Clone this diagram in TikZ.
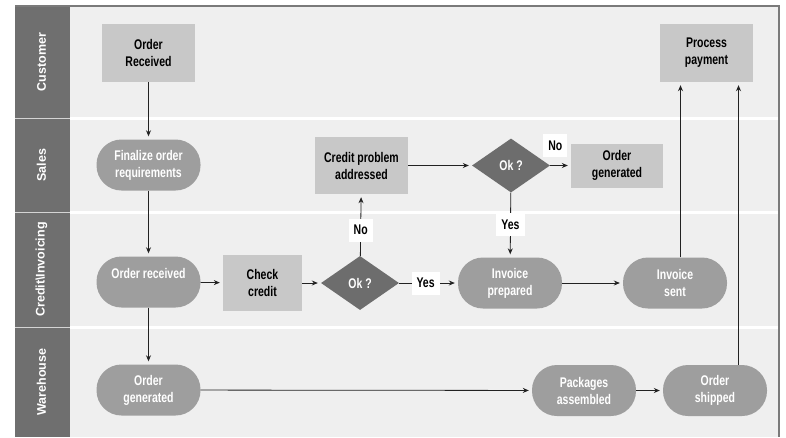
\documentclass[tikz,border=0pt]{standalone}
\usepackage{fontspec}
\setmainfont{Liberation Sans}
\newfontfamily\condfont[FakeStretch=0.75]{Liberation Sans}
\usetikzlibrary{
  shapes.geometric, arrows.meta, positioning, calc
}
\definecolor{laneblock}{HTML}{6F6F6F}
\definecolor{lanepanel}{HTML}{EFEFEF}
\definecolor{stepgray}{HTML}{C8C8C8}
\definecolor{pillgray}{HTML}{9E9E9E}
\definecolor{decidegray}{HTML}{6D6D6D}
\definecolor{framegray}{HTML}{7A7A7A}
\definecolor{flowdark}{HTML}{222222}

\begin{document}
\begin{tikzpicture}[
  x=1pt, y=-1pt,
  stepbox/.style 2 args={
    rectangle, fill=stepgray,
    minimum width=#1, minimum height=#2, inner sep=2pt,
    align=center, text=black,
    font=\condfont\bfseries\fontsize{14}{17}\selectfont
  },
  pill/.style={
    rectangle, rounded corners=25pt, fill=pillgray,
    minimum width=104pt, minimum height=51pt, inner sep=2pt,
    align=center, text=white,
    font=\condfont\bfseries\fontsize{14}{17}\selectfont
  },
  decision/.style={
    diamond, aspect=1.45, fill=decidegray,
    minimum width=78pt, minimum height=54pt, inner sep=0pt,
    text=white, font=\condfont\bfseries\fontsize{14}{17}\selectfont
  },
  tag/.style={
    fill=white, minimum height=23pt, inner xsep=5pt, inner ysep=2pt,
    text=black, font=\condfont\bfseries\fontsize{14}{17}\selectfont
  },
  lanelabel/.style={
    rotate=90, text=white, font=\bfseries\fontsize{12.5}{15}\selectfont
  },
  flow/.style={
    draw=flowdark, line width=0.8pt, shorten >=3pt,
    -{Stealth[length=6pt,width=5pt]}
  }
]
  \useasboundingbox (0,0) rectangle (786,437);

  \fill[lanepanel] (70,6) rectangle (779,437);
  \fill[laneblock] (15,6) rectangle (70,437);
  \foreach \y in {118,212,327} {
    \draw[white, line width=3pt] (70,\y) -- (779,\y);
    \draw[white!70!laneblock, line width=1pt] (15,\y) -- (70,\y);
  }
  \draw[framegray, line width=2.5pt] (15,6) -- (779,6) -- (779,437);

  \node[lanelabel] (lcust) at (41.5,62) {Customer};
  \node[lanelabel] (lsales) at (41.5,165) {Sales};
  \node[lanelabel] (lcredit) at (41.5,269.5) {Credit\textbackslash Invoicing};
  \node[lanelabel] (lware) at (41.5,382) {Warehouse};

  \node[stepbox={93pt}{58pt}] (ordrec) at (148.5,53) {Order\\Received};
  \node[pill] (finalize) at (148.5,165) {Finalize order\\requirements};
  \node[pill] (ordcredit) at (148.5,282) {Order received\\~};
  \node[pill] (ordware) at (148.5,390) {Order\\generated};
  \node[stepbox={79pt}{56pt}] (check) at (262.5,283) {Check\\credit};
  \node[decision] (okone) at (360,283) {Ok ?};
  \node[stepbox={93pt}{57pt}] (credprob) at (361.5,165.5) {Credit problem\\addressed};
  \node[decision] (oktwo) at (511,165.5) {Ok ?};
  \node[stepbox={92pt}{44pt}] (ordsales) at (617,165.5) {Order\\generated};
  \node[pill] (invprep) at (510,283) {Invoice\\prepared};
  \node[pill] (invsent) at (675,283) {Invoice\\sent};
  \node[stepbox={93pt}{58pt}] (paypro) at (706.5,53) {Process\\payment};
  \node[pill] (packs) at (584,390.5) {Packages\\assembled};
  \node[pill] (shipped) at (715,390.5) {Order\\shipped};

  \draw[flow] (ordrec) -- (finalize);
  \draw[flow] (finalize) -- (ordcredit);
  \draw[flow] (ordcredit) -- (check);
  \draw[flow] (ordcredit) -- (ordware);
  \draw[flow] (check) -- (okone);
  \draw[flow] (okone) -- node[tag, pos=0.45] (yesone) {Yes} (invprep);
  \draw[flow] (okone) -- node[tag, pos=0.42] (noone) {No} (credprob);
  \draw[flow] (credprob) -- (oktwo);
  \draw[flow] (oktwo) -- node[tag, pos=0.5] (yestwo) {Yes} (invprep);
  \draw[flow] (oktwo) -- node[tag, above=8pt, pos=0.25] (notwo) {No} (ordsales);
  \draw[flow] (invprep) -- (invsent);
  \draw[flow] ([xshift=-26pt]paypro.south |- invsent.north) -- ([xshift=-26pt]paypro.south);
  \draw[flow] (ordware) -- (packs);
  \draw[flow] (packs) -- (shipped);
  \draw[flow] ([xshift=32pt]paypro.south |- shipped.north) -- ([xshift=32pt]paypro.south);
\end{tikzpicture}
\end{document}
